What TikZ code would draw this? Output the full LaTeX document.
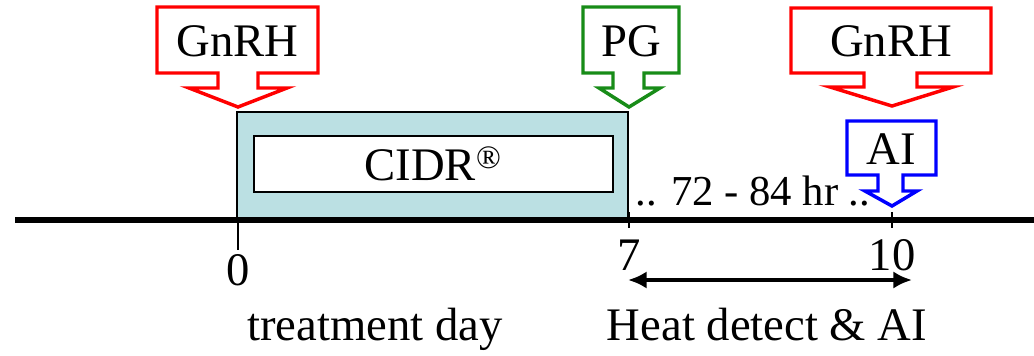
\documentclass[tikz,border=0pt]{standalone}
\usepackage{fontspec}
\setmainfont{Liberation Serif}
\usetikzlibrary{arrows.meta}
\definecolor{cidrfill}{RGB}{187,224,227}
\definecolor{pggreen}{RGB}{24,140,24}
\tikzset{
  callout/.style={line width=2.6pt, fill=white, draw=#1, miter limit=20},
  lbl/.style={font=\fontsize{35}{40}\selectfont, inner sep=0pt},
}
\begin{document}
\begin{tikzpicture}[x=0.75pt,y=-0.75pt]
\useasboundingbox (0,0) rectangle (1034,356);
% CIDR insert, day 0 to day 7
\draw[fill=cidrfill, line width=1.5pt] (237,112) rectangle (628,219);
\draw[fill=white, line width=1.2pt] (254,136) rectangle (613,192);
\node[lbl] (cidr) at (433,164) {CIDR\textsuperscript{\textregistered}};
% time axis
\draw[line width=4.5pt] (15,219.5) -- (1034,219.5);
\coordinate (d0) at (238,219.5);
\coordinate (d7) at (629,219.5);
\coordinate (d10) at (892,219.5);
\draw[line width=1.5pt] (d0) -- ++(0,30);
\draw[line width=1.5pt] (629,212) -- (629,228);
\draw[line width=2.2pt] (892,212) -- (892,228);
\node[lbl] (n0) at (238,270) {0};
\node[lbl] (n7) at (629,255) {7};
\node[lbl] (n10) at (892,255) {10};
% injections
\draw[callout=red] (157,7) -- (318,7) -- (318,73) -- (258,73) -- (258,88) -- (287,88)
  -- (238,107) -- (189,88) -- (218,88) -- (218,73) -- (157,73) -- cycle;
\node[lbl] (gnrhA) at (237.5,41) {GnRH};
\draw[callout=pggreen] (583,7) -- (679,7) -- (679,73) -- (644,73) -- (644,88) -- (660,88)
  -- (629,107) -- (599,88) -- (613,88) -- (613,73) -- (583,73) -- cycle;
\node[lbl] (pg) at (631,41) {PG};
\draw[callout=red] (791,8) -- (991,8) -- (991,73) -- (917,73) -- (917,87) -- (953,87)
  -- (892,106) -- (830,87) -- (864,87) -- (864,73) -- (791,73) -- cycle;
\node[lbl] (gnrhB) at (891,41) {GnRH};
\draw[callout=blue] (847,121) -- (936,121) -- (936,175) -- (903,175) -- (903,191) -- (917,191)
  -- (892,206) -- (865,191) -- (878,191) -- (878,175) -- (847,175) -- cycle;
\node[lbl] (ai) at (891.5,149) {AI};
\node[lbl, font=\fontsize{32}{38}\selectfont, anchor=base] (hrs) at (753,205) {.. 72 - 84 hr ..};
% heat detection window
\coordinate (w7) at (628,280);
\coordinate (w10) at (912,280);
\draw[line width=3pt, {Latex[length=14pt,width=13pt]}-{Latex[length=14pt,width=13pt]}] (w7) -- (w10);
\node[lbl, anchor=base] (tday) at (375,340) {treatment day};
\node[lbl, anchor=base] (heat) at (767,340) {Heat detect \& AI};
\end{tikzpicture}
\end{document}
